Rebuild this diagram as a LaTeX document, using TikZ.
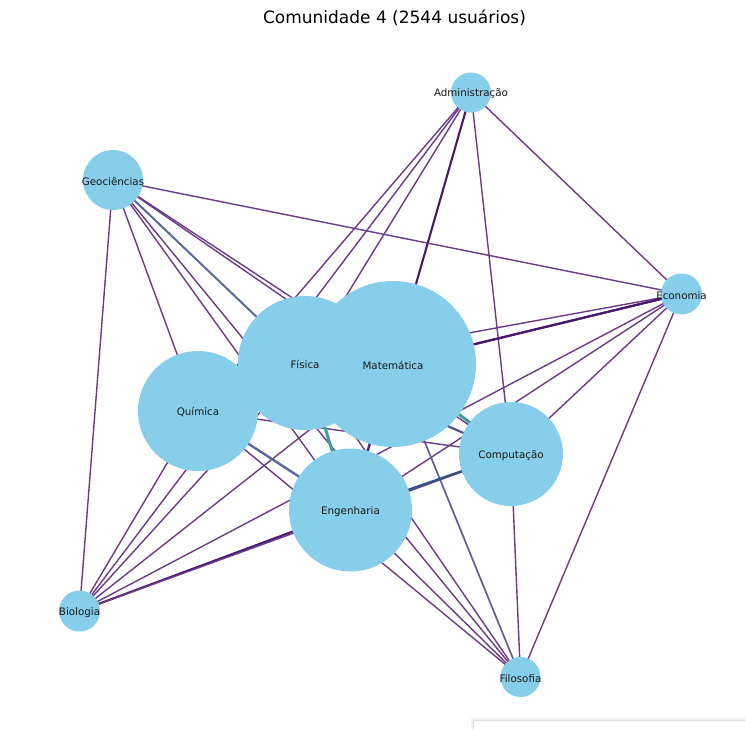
\documentclass[tikz,border=0pt]{standalone}
\usepackage{fontspec}
\setmainfont{DejaVu Sans}
\pgfdeclarelayer{bg}
\pgfdeclarelayer{edges}
\pgfsetlayers{bg,edges,main}
\definecolor{nodeblue}{HTML}{87CEEB}
\definecolor{ethin}{RGB}{108,58,136}
\definecolor{edark}{RGB}{72,24,112}
\definecolor{eblue}{RGB}{92,104,160}
\definecolor{enavy}{RGB}{56,82,130}
\definecolor{eteal}{RGB}{58,160,152}
\tikzset{
  vert/.style={circle, fill=nodeblue, draw=none, inner sep=0pt},
  lab/.style={font=\fontsize{10.3}{12}\selectfont, text=black!90, inner sep=0pt, yshift=-1.2pt},
  ethinline/.style={draw=ethin, line width=1.4pt},
  edarkline/.style={draw=edark, line width=2.1pt},
  ebluelline/.style={draw=eblue, line width=2.4pt},
  enavyline/.style={draw=enavy, line width=2.4pt},
  etealline/.style={draw=eteal, line width=3pt},
}
\begin{document}
\begin{tikzpicture}[x=1pt,y=-1pt]
\useasboundingbox (0,0) rectangle (745,729);
\begin{pgfonlayer}{bg}
\fill[white] (0,0) rectangle (745,729);
\end{pgfonlayer}
% title
\node[font=\fontsize{17}{20}\selectfont] (title) at (394.5,18) {Comunidade 4 (2544 usuários)};
% nodes
\node[vert, minimum size=40pt] (adm) at (471,92.5) {};
\node[vert, minimum size=60pt] (geo) at (113,180) {};
\node[vert, minimum size=41pt] (eco) at (681.5,294) {};
\node[vert, minimum size=134pt] (fis) at (305,363) {};
\node[vert, minimum size=166pt] (mat) at (393,364) {};
\node[vert, minimum size=120pt] (qui) at (198,411) {};
\node[vert, minimum size=104pt] (comp) at (511,454) {};
\node[vert, minimum size=123pt] (eng) at (350.5,510) {};
\node[vert, minimum size=41pt] (bio) at (79.5,611) {};
\node[vert, minimum size=40pt] (filo) at (520.5,677) {};
% labels
\node[lab] (admL) at (adm) {Administração};
\node[lab] (geoL) at (geo) {Geociências};
\node[lab] (ecoL) at (eco) {Economia};
\node[lab] (fisL) at (fis) {Física};
\node[lab] (matL) at (mat) {Matemática};
\node[lab] (quiL) at (qui) {Química};
\node[lab] (compL) at (comp) {Computação};
\node[lab] (engL) at (eng) {Engenharia};
\node[lab] (bioL) at (bio) {Biologia};
\node[lab] (filoL) at (filo) {Filosofia};
% edges
\begin{pgfonlayer}{edges}
\draw[ethinline] (adm.center) -- (eco.center);
\draw[ethinline] (adm.center) -- (comp.center);
\draw[ethinline] (adm.center) -- (qui.center);
\draw[ethinline] (adm.center) -- (bio.center);
\draw[ethinline] (adm.center) -- (fis.center);
\draw[edarkline] (adm.center) -- (mat.center);
\draw[ethinline] (geo.center) -- (eco.center);
\draw[ethinline] (geo.center) -- (bio.center);
\draw[ethinline] (geo.center) -- (qui.center);
\draw[ethinline] (geo.center) -- (eng.center);
\draw[ethinline] (geo.center) -- (filo.center);
\draw[ethinline] (geo.center) -- (mat.center);
\draw[ethinline] (geo.center) -- (comp.center);
\draw[draw=eblue, line width=2pt] (geo.center) -- (fis.center);
\draw[ethinline] (eco.center) -- (fis.center);
\draw[edarkline] (eco.center) -- (mat.center);
\draw[edarkline] (eco.center) -- (qui.center);
\draw[ethinline] (eco.center) -- (eng.center);
\draw[ethinline] (eco.center) -- (comp.center);
\draw[ethinline] (eco.center) -- (filo.center);
\draw[ethinline] (eco.center) -- (bio.center);
\draw[ethinline] (bio.center) -- (qui.center);
\draw[ethinline] (bio.center) -- (fis.center);
\draw[ethinline] (bio.center) -- (mat.center);
\draw[edarkline] (bio.center) -- (eng.center);
\draw[ethinline] (bio.center) -- (comp.center);
\draw[ethinline] (filo.center) -- (qui.center);
\draw[ethinline] (filo.center) -- (eng.center);
\draw[ethinline] (filo.center) -- (fis.center);
\draw[draw=eblue!75!ethin, line width=1.7pt] (filo.center) -- (mat.center);
\draw[ethinline] (filo.center) -- (comp.center);
\draw[ethinline] (qui.center) -- (comp.center);
\draw[ebluelline] (qui.center) -- (eng.center);
\draw[draw=eblue!70!edark, line width=2.2pt] (fis.center) -- (comp.center);
\draw[enavyline] (eng.center) -- (comp.center);
\draw[draw=edark!60!enavy, line width=2.4pt] (mat.center) -- (eng.center);
\draw[etealline] (fis.center) -- (eng.center);
\draw[etealline] (mat.center) -- (comp.center);
\end{pgfonlayer}
% faint legend box edge at bottom right
\draw[black!6, line width=2pt] (472,729) -- (472,719) -- (745,719);
\draw[black!14, line width=0.8pt] (473,729) -- (473,720.5) -- (745,720.5);
\end{tikzpicture}
\end{document}
